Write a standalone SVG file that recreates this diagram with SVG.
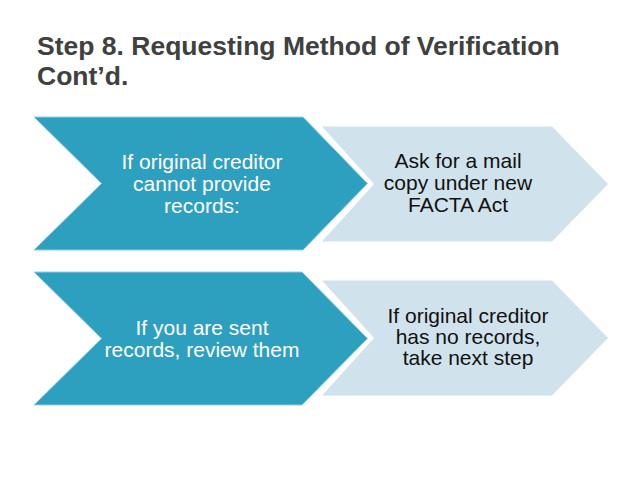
<svg xmlns="http://www.w3.org/2000/svg" width="638" height="479" viewBox="0 0 638 479">
<style>
.title{font-family:"Liberation Sans",Arial,sans-serif;font-weight:bold;font-size:26.5px;fill:#404040}
.dark{fill:#2ea0bf;stroke:#8fcfe0;stroke-width:1}
.light{fill:#d0e3ec}
.tw{font-family:"Liberation Sans",Arial,sans-serif;font-size:21px;fill:#ffffff;text-anchor:middle}
.tb{font-family:"Liberation Sans",Arial,sans-serif;font-size:21px;fill:#111111;text-anchor:middle}
</style>
<rect width="638" height="479" fill="#ffffff"/>
<g id="title">
<text class="title" x="37" y="55">Step 8. Requesting Method of Verification</text>
<text class="title" x="37" y="84.5">Cont’d.</text>
</g>
<g id="node-ask-mail-copy">
<polygon class="light" points="322,126.5 552,126.5 608,184 552,241.5 322,241.5 374,184"/>
<text class="tb" x="458" y="168">Ask for a mail</text>
<text class="tb" x="458" y="190">copy under new</text>
<text class="tb" x="458" y="212">FACTA Act</text>
</g>
<g id="node-cannot-provide">
<polygon class="dark" points="34,117 303,117 367.5,183.5 303,250 34,250 101.5,183.5"/>
<text class="tw" x="202" y="169">If original creditor</text>
<text class="tw" x="202" y="191">cannot provide</text>
<text class="tw" x="202" y="213">records:</text>
</g>
<g id="node-no-records">
<polygon class="light" points="322,280.5 552,280.5 608,338 552,395.5 322,395.5 374,338"/>
<text class="tb" x="468" y="322.5">If original creditor</text>
<text class="tb" x="468" y="343.5">has no records,</text>
<text class="tb" x="468" y="364.5">take next step</text>
</g>
<g id="node-review-records">
<polygon class="dark" points="34,272 302,272 367.5,338.5 302,405 34,405 101.5,338.5"/>
<text class="tw" x="202" y="334.5">If you are sent</text>
<text class="tw" x="202" y="356.5">records, review them</text>
</g>
<g id="connectors"/>
</svg>
